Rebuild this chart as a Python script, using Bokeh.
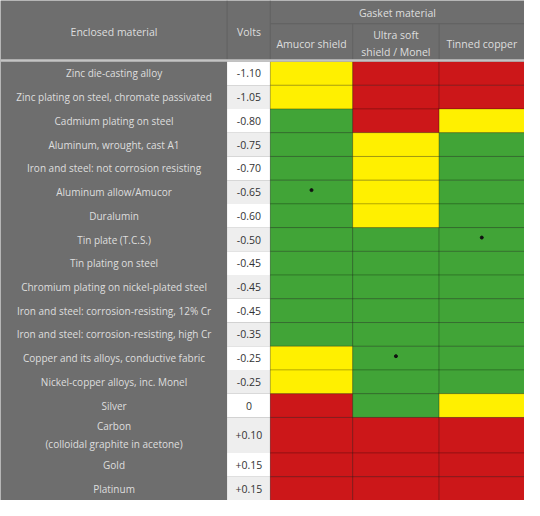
from bokeh.plotting import figure
from bokeh.models import Range1d
from bokeh.core.properties import value
from bokeh.embed import file_html
from bokeh.resources import INLINE

# ---------------- data ----------------
materials = [
    "Zinc die-casting alloy",
    "Zinc plating on steel, chromate passivated",
    "Cadmium plating on steel",
    "Aluminum, wrought, cast A1",
    "Iron and steel: not corrosion resisting",
    "Aluminum allow/Amucor",
    "Duralumin",
    "Tin plate (T.C.S.)",
    "Tin plating on steel",
    "Chromium plating on nickel-plated steel",
    "Iron and steel: corrosion-resisting, 12% Cr",
    "Iron and steel: corrosion-resisting, high Cr",
    "Copper and its alloys, conductive fabric",
    "Nickel-copper alloys, inc. Monel",
    "Silver",
    "Carbon\n(colloidal graphite in acetone)",
    "Gold",
    "Platinum",
]
volts = ["-1.10", "-1.05", "-0.80", "-0.75", "-0.70", "-0.65", "-0.60", "-0.50",
         "-0.45", "-0.45", "-0.45", "-0.35", "-0.25", "-0.25", "0", "+0.10",
         "+0.15", "+0.15"]
gaskets = ["Amucor shield", "Ultra soft\nshield / Monel", "Tinned copper"]
amucor = ["Y", "Y", "G", "G", "G", "G", "G", "G", "G", "G", "G", "G", "Y", "Y", "R", "R", "R", "R"]
ultra = ["R", "R", "R", "Y", "Y", "Y", "Y", "G", "G", "G", "G", "G", "G", "G", "G", "R", "R", "R"]
tinned = ["R", "R", "Y", "G", "G", "G", "G", "G", "G", "G", "G", "G", "G", "G", "Y", "R", "R", "R"]
dot_rows = [5, 12, 7]
dot_cols = [0, 1, 2]

# ---------------- layout ----------------
W, H = 540, 516
BG = "#6e6e6e"
TXT = "#dedede"
palette = {"Y": "#fff000", "R": "#cc1719", "G": "#41a437"}
col_edges = [0, 233.5, 278, 363, 452, 540]
top = 63.0
weights = [1.5 if "\n" in m else 1.0 for m in materials]
unit = (H - top) / sum(weights)
row_top, row_bot = [], []
y = top
for w in weights:
    row_top.append(y)
    y += w * unit
    row_bot.append(y)
row_mid = [(a + b) / 2 for a, b in zip(row_top, row_bot)]

p = figure(width=524, height=500, x_range=Range1d(0, W), y_range=Range1d(H, 0),
           output_backend="svg", toolbar_location=None, min_border=0)
p.axis.visible = False
p.grid.visible = False
p.outline_line_color = None
p.background_fill_color = BG
p.border_fill_color = BG

# volts column backgrounds
p.quad(left=[col_edges[1]] * len(volts), right=[col_edges[2]] * len(volts),
       top=row_top, bottom=row_bot,
       fill_color=["#ffffff" if i % 2 == 0 else "#eeeeee" for i in range(len(volts))],
       line_color=None)

# rating cells
ratings = [amucor, ultra, tinned]
L, R, T, B, C = [], [], [], [], []
for j, col in enumerate(ratings):
    for i, r in enumerate(col):
        L.append(col_edges[2 + j]); R.append(col_edges[3 + j])
        T.append(row_top[i]); B.append(row_bot[i])
        C.append(palette[r])
p.quad(left=L, right=R, top=T, bottom=B, fill_color=C,
       line_color="#000000", line_alpha=0.2, line_width=1)

# dots
p.scatter(x=[(col_edges[2 + c] + col_edges[3 + c]) / 2 for c in dot_cols],
          y=[row_mid[r] - 2 for r in dot_rows], size=3, color="#111111")

# header separators
p.segment(x0=[233.5, 278, 278, 363, 452], y0=[0, 0, 24, 24, 24],
          x1=[233.5, 278, 540, 363, 452], y1=[62, 62, 24, 62, 62],
          line_color="#616161", line_width=1)
p.segment(x0=[0], y0=[62], x1=[W], y1=[62], line_color="#c4c4c4", line_width=2.5)

font = value("Open Sans")
# header texts
p.text(x=[117, 256, 409], y=[32, 32, 13],
       text=["Enclosed material", "Volts", "Gasket material"],
       text_align="center", text_baseline="middle", text_font=font,
       text_font_size="10.5px", text_color=TXT)
p.text(x=[(col_edges[2 + j] + col_edges[3 + j]) / 2 for j in range(3)],
       y=[44.5] * 3, text=gaskets, text_align="center", text_baseline="middle",
       text_font=font, text_font_size="10.5px", text_color=TXT, text_line_height=1.25)

# row labels
p.text(x=[117] * len(materials), y=row_mid, text=materials, text_align="center",
       text_baseline="middle", text_font=font, text_font_size="10px",
       text_color=TXT, text_line_height=1.3)
p.text(x=[256] * len(volts), y=row_mid, text=volts, text_align="center",
       text_baseline="middle", text_font=font, text_font_size="10.5px",
       text_color="#333333")

open("out.html", "w").write(file_html(p, INLINE))
